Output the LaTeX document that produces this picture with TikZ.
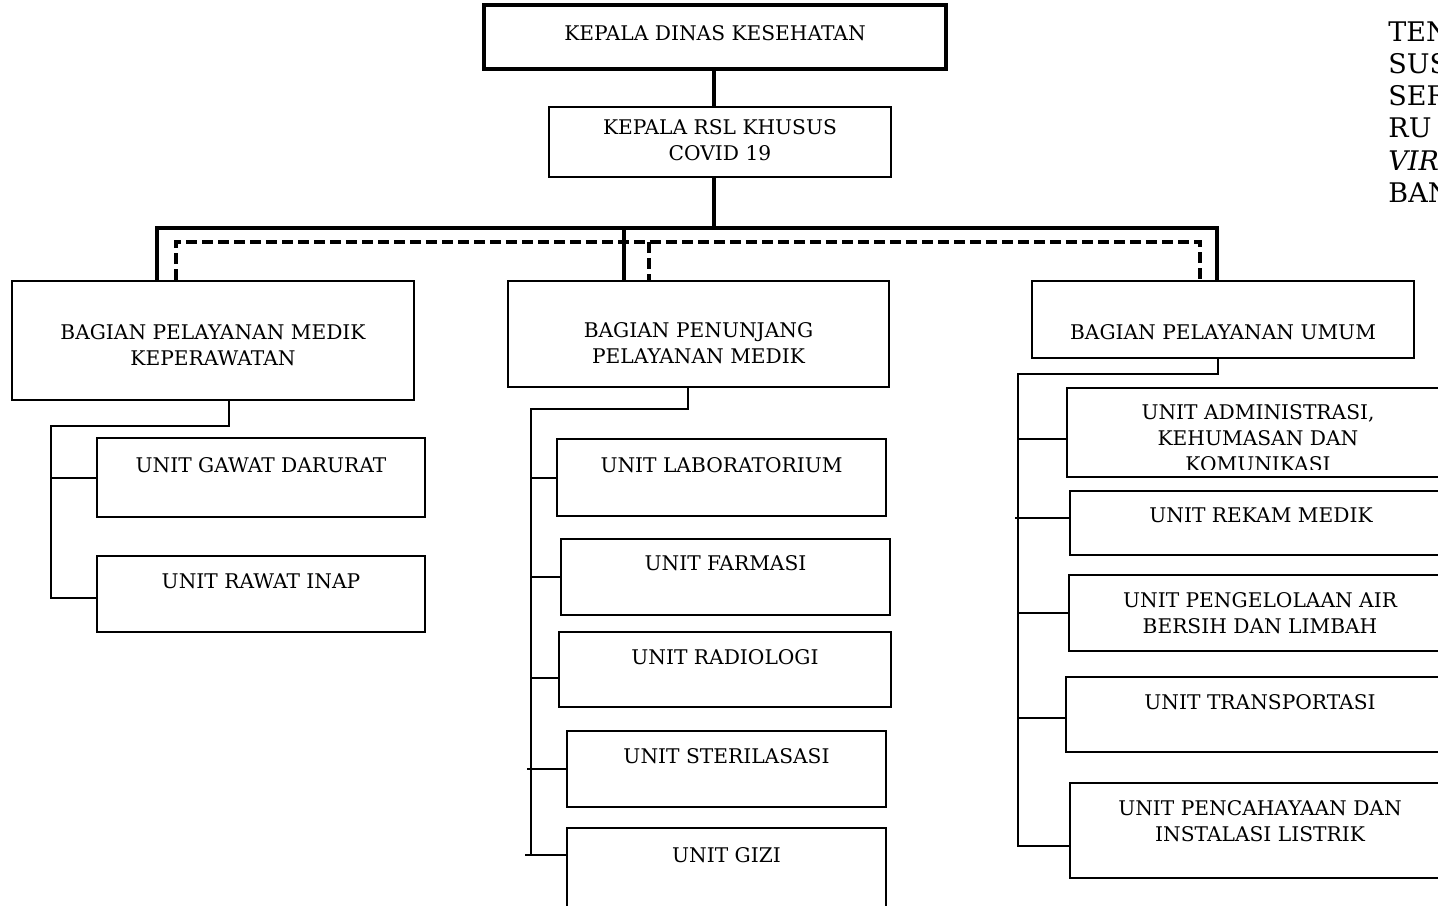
\documentclass[tikz,border=0pt]{standalone}
\usepackage{fontspec}
\setmainfont{DejaVu Serif}
\usetikzlibrary{fit}

\begin{document}
\begin{tikzpicture}[x=0.5pt, y=-0.5pt,
    box/.style={draw, line width=1pt, inner sep=0pt},
    headbox/.style={box, line width=2pt},
    txt/.style={anchor=north, align=center, inner sep=0pt, font=\fontsize{10.1}{13}\selectfont},
    titletxt/.style={anchor=west, inner sep=0pt, font=\fontsize{13.5}{16}\selectfont},
    heavy/.style={line width=2pt},
    link/.style={line width=1pt},
    dashes/.style={line width=1.8pt, dash pattern=on 5.5pt off 2.5pt}]
    \useasboundingbox (0,0) rectangle (1438,905);
    \clip (0,0) rectangle (1438,905);

    % boxes
    \node[headbox, fit={(484,5) (946,69)}] (kd) {};
    \node[box, fit={(549,107) (891,177)}] (kr) {};
    \node[box, fit={(12,281) (414,400)}] (bpm) {};
    \node[box, fit={(508,281) (889,387)}] (bpp) {};
    \node[box, fit={(1032,281) (1414,358)}] (bpu) {};
    \node[box, fit={(97,438) (425,517)}] (gd) {};
    \node[box, fit={(97,556) (425,632)}] (ri) {};
    \node[box, fit={(557,439) (886,516)}] (lab) {};
    \node[box, fit={(561,539) (890,615)}] (far) {};
    \node[box, fit={(559,632) (891,707)}] (rad) {};
    \node[box, fit={(567,731) (886,807)}] (ste) {};
    \node[box, fit={(567,828) (886,915)}] (gizi) {};
    \node[box, fit={(1067,388) (1470,477)}] (adm) {};
    \node[box, fit={(1070,491) (1470,555)}] (rek) {};
    \node[box, fit={(1069,575) (1470,651)}] (air) {};
    \node[box, fit={(1066,677) (1470,752)}] (trans) {};
    \node[box, fit={(1070,783) (1470,878)}] (pen) {};

    % texts
    \node[txt] (kd-t) at (715,25) {KEPALA DINAS KESEHATAN};
    \node[txt] (kr-t) at (720,119) {KEPALA RSL KHUSUS\\COVID 19};
    \node[txt] (bpm-t) at (213,324) {BAGIAN PELAYANAN MEDIK\\KEPERAWATAN};
    \node[txt] (bpp-t) at (698.5,322) {BAGIAN PENUNJANG\\PELAYANAN MEDIK};
    \node[txt] (bpu-t) at (1223,324) {BAGIAN PELAYANAN UMUM};
    \node[txt] (gd-t) at (261,457) {UNIT GAWAT DARURAT};
    \node[txt] (ri-t) at (261,573) {UNIT RAWAT INAP};
    \node[txt] (lab-t) at (721.5,457) {UNIT LABORATORIUM};
    \node[txt] (far-t) at (725.5,555) {UNIT FARMASI};
    \node[txt] (rad-t) at (725,649) {UNIT RADIOLOGI};
    \node[txt] (ste-t) at (726.5,748) {UNIT STERILASASI};
    \node[txt] (gizi-t) at (726.5,847) {UNIT GIZI};
    \begin{scope}
        \clip (1067,388) rectangle (1470,469);
        \node[txt] (adm-t) at (1258,404) {UNIT ADMINISTRASI,\\KEHUMASAN DAN\\KOMUNIKASI};
    \end{scope}
    \node[txt] (rek-t) at (1261,507) {UNIT REKAM MEDIK};
    \node[txt] (air-t) at (1260,592) {UNIT PENGELOLAAN AIR\\BERSIH DAN LIMBAH};
    \node[txt] (trans-t) at (1260,694) {UNIT TRANSPORTASI};
    \node[txt] (pen-t) at (1260,800) {UNIT PENCAHAYAAN DAN\\INSTALASI LISTRIK};

    % title (cut at the page edge)
    \node[titletxt] (t1) at (1388,32) {TEN};
    \node[titletxt] (t2) at (1388,64) {SUS};
    \node[titletxt] (t3) at (1388,96) {SER};
    \node[titletxt] (t4) at (1388,128) {RU};
    \node[titletxt] (t5) at (1388,161) {\textit{VIR}};
    \node[titletxt] (t6) at (1388,193) {BAN};

    % upper lines
    \coordinate (trunk) at (714,228);
    \coordinate (jl) at (157,228);
    \coordinate (jm) at (624,228);
    \coordinate (jr) at (1217,228);
    \coordinate (dl) at (176,242);
    \coordinate (dm) at (649,242);
    \coordinate (dr) at (1200,242);
    \draw[heavy] (kd.south -| trunk) -- (kr.north -| trunk);
    \draw[heavy] (kr.south -| trunk) -- (trunk);
    \draw[heavy] (bpm.north -| jl) -- (jl) -- (jr) -- (bpu.north -| jr);
    \draw[heavy] (jm) -- (bpp.north -| jm);
    \draw[dashes] (bpm.north -| dl) -- (dl) -- (dr) -- (bpu.north -| dr);
    \draw[dashes] (dm) -- (bpp.north -| dm);

    % left group
    \coordinate (bl) at (229,426);
    \coordinate (sl) at (51,426);
    \coordinate (ri-in) at ([yshift=-2pt]ri.west);
    \draw[link] (bpm.south -| bl) -- (bl) -- (sl) -- (sl |- ri-in) -- (ri-in);
    \draw[link] (sl |- gd.west) -- (gd.west);

    % middle group
    \coordinate (bm) at (688,409);
    \coordinate (sm) at (531,409);
    \coordinate (rad-in) at ([yshift=-4pt]rad.west);
    \coordinate (ste-l) at (527,769);
    \coordinate (gizi-l) at (525,855);
    \coordinate (gizi-in) at (gizi.west |- gizi-l);
    \draw[link] (bpp.south -| bm) -- (bm) -- (sm) -- (sm |- gizi-in);
    \draw[link] (sm |- lab.west) -- (lab.west);
    \draw[link] (sm |- far.west) -- (far.west);
    \draw[link] (sm |- rad-in) -- (rad-in);
    \draw[link] (ste-l) -- (ste.west);
    \draw[link] (gizi-l) -- (gizi-in);

    % right group
    \coordinate (br) at (1218,374);
    \coordinate (sr) at (1018,374);
    \coordinate (adm-in) at ([yshift=-3pt]adm.west);
    \coordinate (rek-in) at ([yshift=2.5pt]rek.west);
    \coordinate (trans-in) at ([yshift=-1.5pt]trans.west);
    \coordinate (pen-in) at ([yshift=-7.5pt]pen.west);
    \draw[link] (bpu.south -| br) -- (br) -- (sr) -- (sr |- pen-in) -- (pen-in);
    \draw[link] (sr |- adm-in) -- (adm-in);
    \draw[link] ([xshift=-1.5pt]sr |- rek-in) -- (rek-in);
    \draw[link] (sr |- air.west) -- (air.west);
    \draw[link] (sr |- trans-in) -- (trans-in);
\end{tikzpicture}
\end{document}
